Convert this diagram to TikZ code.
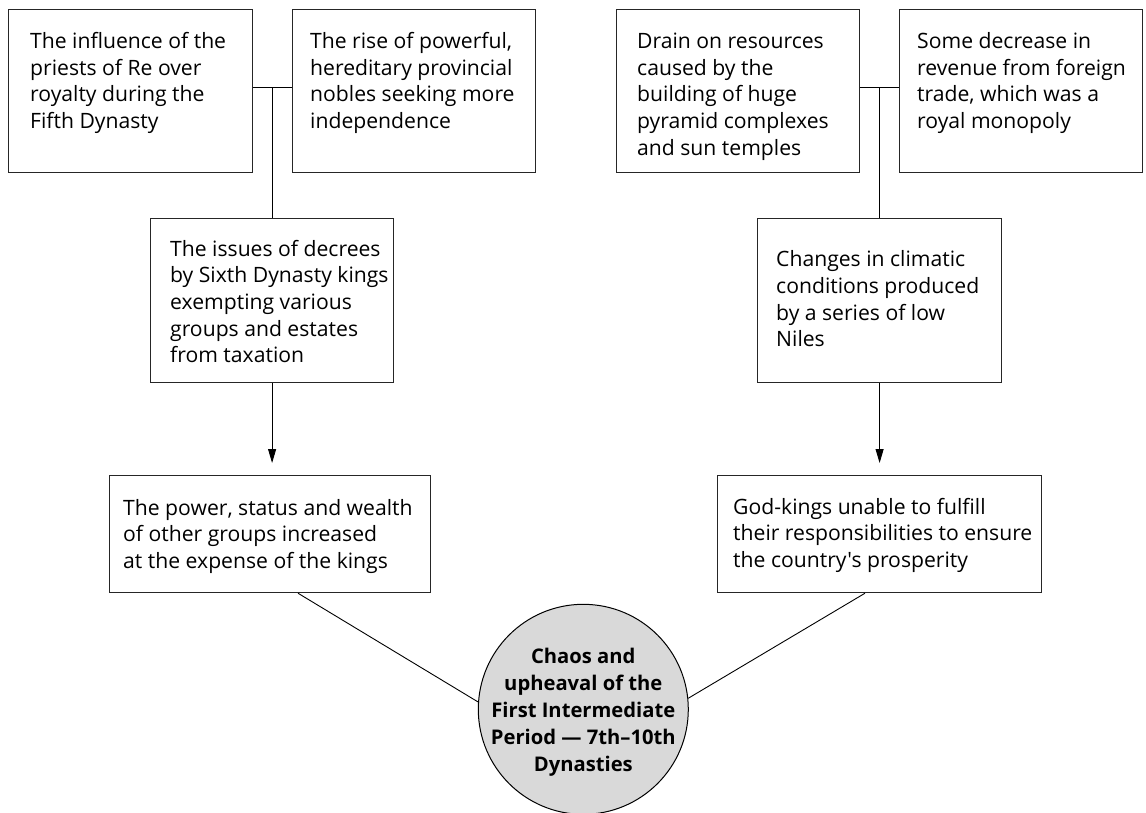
\documentclass[tikz,border=0pt]{standalone}
\usepackage{fontspec}
\newfontfamily\osans{Open Sans}
\usetikzlibrary{arrows.meta}
\newcommand\fsz{\osans\fontsize{21.15}{26.7}\selectfont}
\newcommand\bfsz{\osans\fontsize{20.2}{27}\selectfont\bfseries}
\newcommand\ltext[1]{\parbox[t]{400pt}{\raggedright #1}}
\newcommand\ctext[1]{\parbox[t]{260pt}{\centering #1}}
\tikzset{
  box/.style={draw=black!85, line width=1.2pt, inner sep=0pt, anchor=north west},
  txt/.style={inner sep=0pt, anchor=base west, font=\fsz},
  conn/.style={draw=black, line width=0.9pt},
  arr/.style={conn, -{Triangle[length=14pt,width=8pt]}, shorten >=12pt},
  hub/.style={circle, draw=black, line width=1pt, fill=black!15, inner sep=0pt, minimum size=210pt},
}
\begin{document}
\begin{tikzpicture}[x=1pt,y=-1pt]
\useasboundingbox (0,0) rectangle (1146,812);
% boxes
\node[box, minimum width=244pt, minimum height=163pt] (b1) at (8,9) {};
\node[box, minimum width=243pt, minimum height=163pt] (b2) at (292,9) {};
\node[box, minimum width=243pt, minimum height=164pt] (b3) at (150,218) {};
\node[box, minimum width=321pt, minimum height=117pt] (b4) at (109,475) {};
\node[box, minimum width=243pt, minimum height=163pt] (b5) at (616,9) {};
\node[box, minimum width=243pt, minimum height=163pt] (b6) at (899,9) {};
\node[box, minimum width=244pt, minimum height=164pt] (b7) at (757,218) {};
\node[box, minimum width=324pt, minimum height=117pt] (b8) at (717,475) {};
\node[hub] (c) at (583.3,709.3) {};
% texts
\node[txt] (t1) at (30,48.3) {\ltext{The influence of the\\priests of Re over\\royalty during the\\Fifth Dynasty}};
\node[txt] (t2) at (310,48.3) {\ltext{The rise of powerful,\\hereditary provincial\\nobles seeking more\\independence}};
\node[txt] (t3) at (170,256) {\ltext{The issues of decrees\\by Sixth Dynasty kings\\exempting various\\groups and estates\\from taxation}};
\node[txt] (t4) at (123,515) {\ltext{The power, status and wealth\\of other groups increased\\at the expense of the kings}};
\node[txt] (t5) at (637,48.3) {\ltext{Drain on resources\\caused by the\\building of huge\\pyramid complexes\\and sun temples}};
\node[txt] (t6) at (917,48.3) {\ltext{Some decrease in\\revenue from foreign\\trade, which was a\\royal monopoly}};
\node[txt] (t7) at (776,266.7) {\ltext{Changes in climatic\\conditions produced\\by a series of low\\Niles}};
\node[txt] (t8) at (733,514) {\ltext{God-kings unable to fulfill\\their responsibilities to ensure\\the country's prosperity}};
\node[inner sep=0pt, anchor=base, font=\bfsz] (tc) at (583.3,663) {\ctext{Chaos and\\upheaval of the\\First Intermediate\\Period — 7th–10th\\Dynasties}};
% connectors
\coordinate (jl) at (b3.north |- 0,87);
\coordinate (jr) at (b7.north |- 0,87);
\draw[conn] (b1.east |- jl) -- (b2.west |- jl);
\draw[conn] (jl) -- (b3.north);
\draw[conn] (b5.east |- jr) -- (b6.west |- jr);
\draw[conn] (jr) -- (b7.north);
\draw[arr] (b3.south) -- (b4.north -| b3.south);
\draw[arr] (b7.south) -- (b8.north -| b7.south);
\draw[conn] ([xshift=189pt]b4.south west) -- (c.176.6);
\draw[conn] ([xshift=148pt]b8.south west) -- (c.6.7);
\end{tikzpicture}
\end{document}
